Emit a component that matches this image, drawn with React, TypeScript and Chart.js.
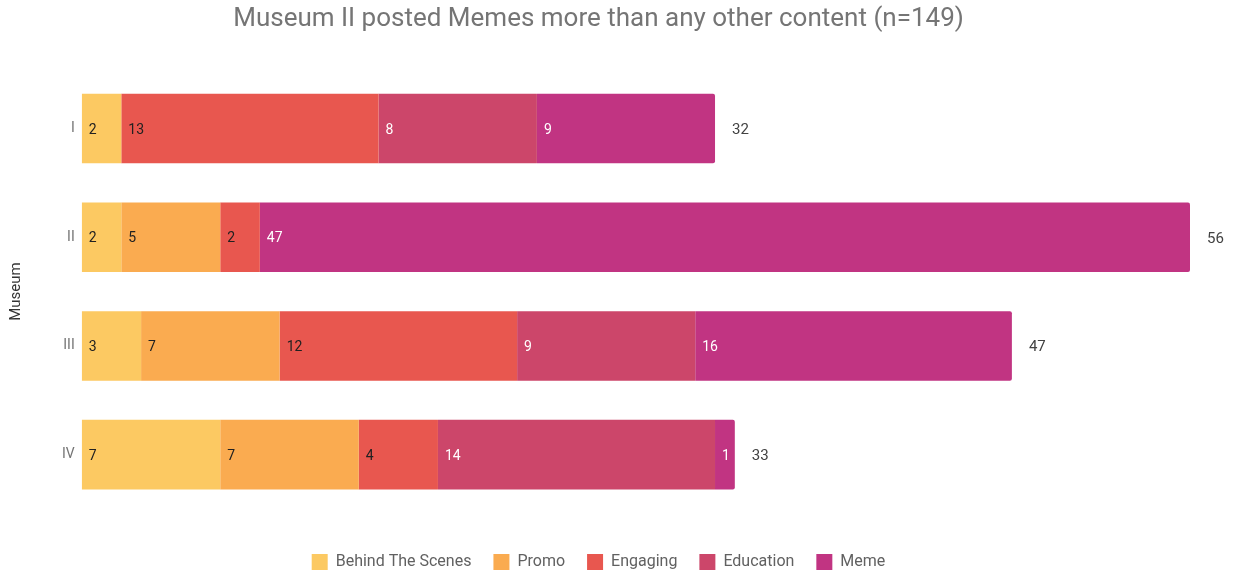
import React, { useEffect, useRef } from "react";
import { Chart, registerables } from "chart.js";

Chart.register(...registerables);

const museums = ["I", "II", "III", "IV"];
const seriesNames = ["Behind The Scenes", "Promo", "Engaging", "Education", "Meme"];
const behindTheScenes = [2, 2, 3, 7];
const promo = [0, 5, 7, 7];
const engaging = [13, 2, 12, 4];
const education = [8, 0, 9, 14];
const meme = [9, 47, 16, 1];
const seriesColors = ["#FCC962", "#FAAB50", "#E8574F", "#CC466A", "#C13482"];
const labelColors = ["#212121", "#212121", "#212121", "#FFFFFF", "#FFFFFF"];

const FONT = "Roboto";

const valueLabels = {
  id: "valueLabels",
  afterDatasetsDraw(chart: any) {
    const ctx = chart.ctx;
    ctx.save();
    ctx.font = `14px ${FONT}`;
    ctx.textBaseline = "middle";
    ctx.textAlign = "left";
    const ends: number[] = [];
    const totals: number[] = [];
    const ys: number[] = [];
    chart.data.datasets.forEach((ds: any, di: number) => {
      const meta = chart.getDatasetMeta(di);
      meta.data.forEach((el: any, i: number) => {
        const v = ds.data[i];
        totals[i] = (totals[i] || 0) + v;
        ys[i] = el.y;
        ends[i] = Math.max(ends[i] || 0, el.x);
        if (!v) return;
        ctx.fillStyle = labelColors[di];
        ctx.fillText(String(v), Math.min(el.base, el.x) + 7, el.y + 1.5);
      });
    });
    ctx.font = `15px ${FONT}`;
    ctx.fillStyle = "#424242";
    totals.forEach((t, i) => {
      ctx.fillText(String(t), ends[i] + 17, ys[i] + 1.5);
    });
    ctx.restore();
  },
};

export default function App() {
  const ref = useRef<HTMLCanvasElement>(null);
  useEffect(() => {
    const all = [behindTheScenes, promo, engaging, education, meme];
    const totals = museums.map((_, i) => all.reduce((s, arr) => s + arr[i], 0));
    const chart = new Chart(ref.current!, {
      type: "bar",
      data: {
        labels: museums,
        datasets: all.map((arr, di) => ({
          label: seriesNames[di],
          data: arr,
          backgroundColor: seriesColors[di],
          borderColor: seriesColors[di],
          borderWidth: 0,
          borderRadius: di === all.length - 1 ? 2 : 0,
          barPercentage: 0.8,
          categoryPercentage: 0.8,
        })),
      },
      options: {
        indexAxis: "y",
        animation: false,
        responsive: true,
        maintainAspectRatio: false,
        layout: { padding: { left: 7, right: 45, top: 4, bottom: -7 } },
        scales: {
          x: {
            stacked: true,
            display: true,
            min: 0,
            max: Math.max(...totals),
            grid: { display: false, drawTicks: false },
            border: { display: false },
            ticks: { display: false },
            afterFit: (scale: any) => {
              scale.height = 23;
            },
          },
          y: {
            stacked: true,
            grid: { display: false, drawTicks: false },
            border: { display: false },
            ticks: { color: "#757575", font: { family: FONT, size: 14 }, padding: 7 },
            title: {
              display: true,
              text: "Museum",
              color: "#333333",
              font: { family: FONT, size: 15 },
              padding: { top: 0, bottom: 30 },
            },
          },
        },
        plugins: {
          title: {
            display: true,
            text: "Museum II posted Memes more than any other content (n=149)",
            color: "#757575",
            font: { family: FONT, size: 26, weight: "normal" },
            padding: { top: 0, bottom: 39 },
          },
          legend: {
            position: "bottom",
            labels: {
              boxWidth: 16,
              boxHeight: 16,
              color: "#616161",
              font: { family: FONT, size: 16 },
              padding: 22,
            },
          },
          tooltip: { enabled: false },
        },
      },
      plugins: [valueLabels],
    });
    return () => chart.destroy();
  }, []);
  return (
    <div style={{ position: "fixed", left: 0, top: 0, width: 1235, height: 573, background: "#fff" }}>
      <canvas ref={ref} />
    </div>
  );
}
